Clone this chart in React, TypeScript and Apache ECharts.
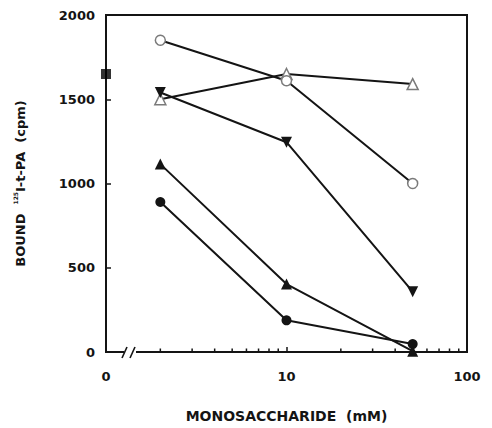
import React, { useEffect, useRef } from "react";
import * as echarts from "echarts";

// Concentrations (mM) for the saccharide series
const X_VALUES = [2, 10, 50];
// Series values (bound 125I-t-PA, cpm)
const OPEN_CIRCLE = [1850, 1610, 1000];
const OPEN_TRIANGLE = [1500, 1650, 1590];
const FILLED_DOWN_TRIANGLE = [1540, 1245, 358];
const FILLED_TRIANGLE = [1115, 403, 5];
const FILLED_CIRCLE = [890, 188, 47];
// Control (no saccharide), drawn at the axis origin labelled "0"
const CONTROL_X = 1;
const CONTROL_Y = 1650;
// Axis ticks
const Y_TICKS = [0, 500, 1000, 1500, 2000];
const X_MAJOR = [1, 10, 100];
const X_LABELS = ["0", "10", "100"];
const X_MINOR = [2, 3, 4, 5, 6, 7, 8, 9, 20, 30, 40, 50, 60, 70, 80, 90];

const FONT = "DejaVu Sans";
const INK = "#141414";
const OPEN = "#7a7a7a";

function pairs(ys: number[]) {
  return X_VALUES.map((x, i) => [x, ys[i]]);
}

export default function App() {
  const ref = useRef<HTMLDivElement>(null);
  useEffect(() => {
    if (!ref.current) return;
    const chart = echarts.init(ref.current, undefined, { renderer: "svg" });
    const lineSeries = (data: number[][], symbol: string, filled: boolean, rotate = 0, size = 10) => ({
      type: "line",
      data,
      symbol,
      symbolSize: size,
      symbolRotate: rotate,
      clip: false,
      lineStyle: { color: INK, width: 2 },
      itemStyle: filled
        ? { color: INK, borderColor: INK, borderWidth: 0 }
        : { color: "#fff", borderColor: OPEN, borderWidth: 1.5 },
      z: 3,
    });
    const option: any = {
      animation: false,
      backgroundColor: "#fff",
      grid: {
        left: 106,
        right: 25,
        top: 15,
        bottom: 72,
        show: true,
        borderColor: INK,
        borderWidth: 2,
        backgroundColor: "transparent",
      },
      xAxis: {
        type: "log",
        logBase: 10,
        min: X_MAJOR[0],
        max: X_MAJOR[X_MAJOR.length - 1],
        name: "MONOSACCHARIDE  (mM)",
        nameLocation: "middle",
        nameGap: 57,
        nameTextStyle: { fontFamily: FONT, fontWeight: "bold", fontSize: 14, color: INK },
        axisLine: { show: true, lineStyle: { color: INK, width: 2 } },
        axisTick: { show: true, inside: true, length: 5, lineStyle: { color: INK, width: 1.5 } },
        splitLine: { show: false },
        minorTick: { show: false },
        axisLabel: {
          show: true,
          margin: 18,
          showMinLabel: true,
          showMaxLabel: true,
          fontFamily: FONT,
          fontWeight: "bold",
          fontSize: 13,
          color: INK,
          formatter: (v: number) => {
            const i = X_MAJOR.indexOf(Math.round(v));
            return i >= 0 ? X_LABELS[i] : "";
          },
        },
      },
      yAxis: {
        type: "value",
        min: Y_TICKS[0],
        max: Y_TICKS[Y_TICKS.length - 1],
        interval: 500,
        name: "{b|BOUND  }{s|125}{b|I-t-PA  (cpm)}",
        nameLocation: "middle",
        nameGap: 78,
        nameTextStyle: {
          rich: {
            b: { fontFamily: FONT, fontWeight: "bold", fontSize: 13, color: INK, lineHeight: 16 },
            s: { fontFamily: FONT, fontWeight: "bold", fontSize: 6, color: INK, lineHeight: 16, verticalAlign: "top" },
          },
        },
        axisLine: { show: true, lineStyle: { color: INK, width: 2 } },
        axisTick: { show: true, inside: true, length: 5, lineStyle: { color: INK, width: 1.5 } },
        splitLine: { show: false },
        axisLabel: {
          margin: 11,
          fontFamily: FONT,
          fontWeight: "bold",
          fontSize: 13,
          color: INK,
          formatter: (v: number) => String(v),
        },
      },
      series: [
        lineSeries(pairs(OPEN_TRIANGLE), "triangle", false, 0, 11),
        lineSeries(pairs(OPEN_CIRCLE), "circle", false, 0, 10),
        lineSeries(pairs(FILLED_DOWN_TRIANGLE), "triangle", true, 180, 11),
        lineSeries(pairs(FILLED_TRIANGLE), "triangle", true, 0, 11),
        lineSeries(pairs(FILLED_CIRCLE), "circle", true, 0, 10),
        {
          type: "scatter",
          data: [[CONTROL_X, CONTROL_Y]],
          symbol: "rect",
          symbolSize: 10,
          clip: false,
          itemStyle: { color: "#000" },
          z: 4,
        },
      ],
    };
    chart.setOption(option);

    // Axis decorations: minor log ticks and the axis break mark
    const origin = chart.convertToPixel({ gridIndex: 0 }, [X_MAJOR[0], Y_TICKS[0]]) as number[];
    const graphics: any[] = [];
    X_MINOR.forEach((v) => {
      const p = chart.convertToPixel({ gridIndex: 0 }, [v, Y_TICKS[0]]) as number[];
      graphics.push({
        type: "line",
        shape: { x1: p[0], y1: p[1], x2: p[0], y2: p[1] - 3.5 },
        style: { stroke: INK, lineWidth: 1.5 },
        z: 10,
      });
    });
    const bx = origin[0] + 18;
    const by = origin[1];
    graphics.push({
      type: "rect",
      shape: { x: bx, y: by - 3, width: 12, height: 6 },
      style: { fill: "#fff" },
      z: 11,
    });
    [0, 8].forEach((dx) => {
      graphics.push({
        type: "line",
        shape: { x1: bx + dx - 2, y1: by + 6, x2: bx + dx + 3, y2: by - 5 },
        style: { stroke: INK, lineWidth: 1.6 },
        z: 12,
      });
    });
    chart.setOption({ graphic: graphics });

    return () => chart.dispose();
  }, []);
  return <div ref={ref} style={{ width: 492, height: 428, position: "absolute", left: 0, top: 0 }} />;
}
